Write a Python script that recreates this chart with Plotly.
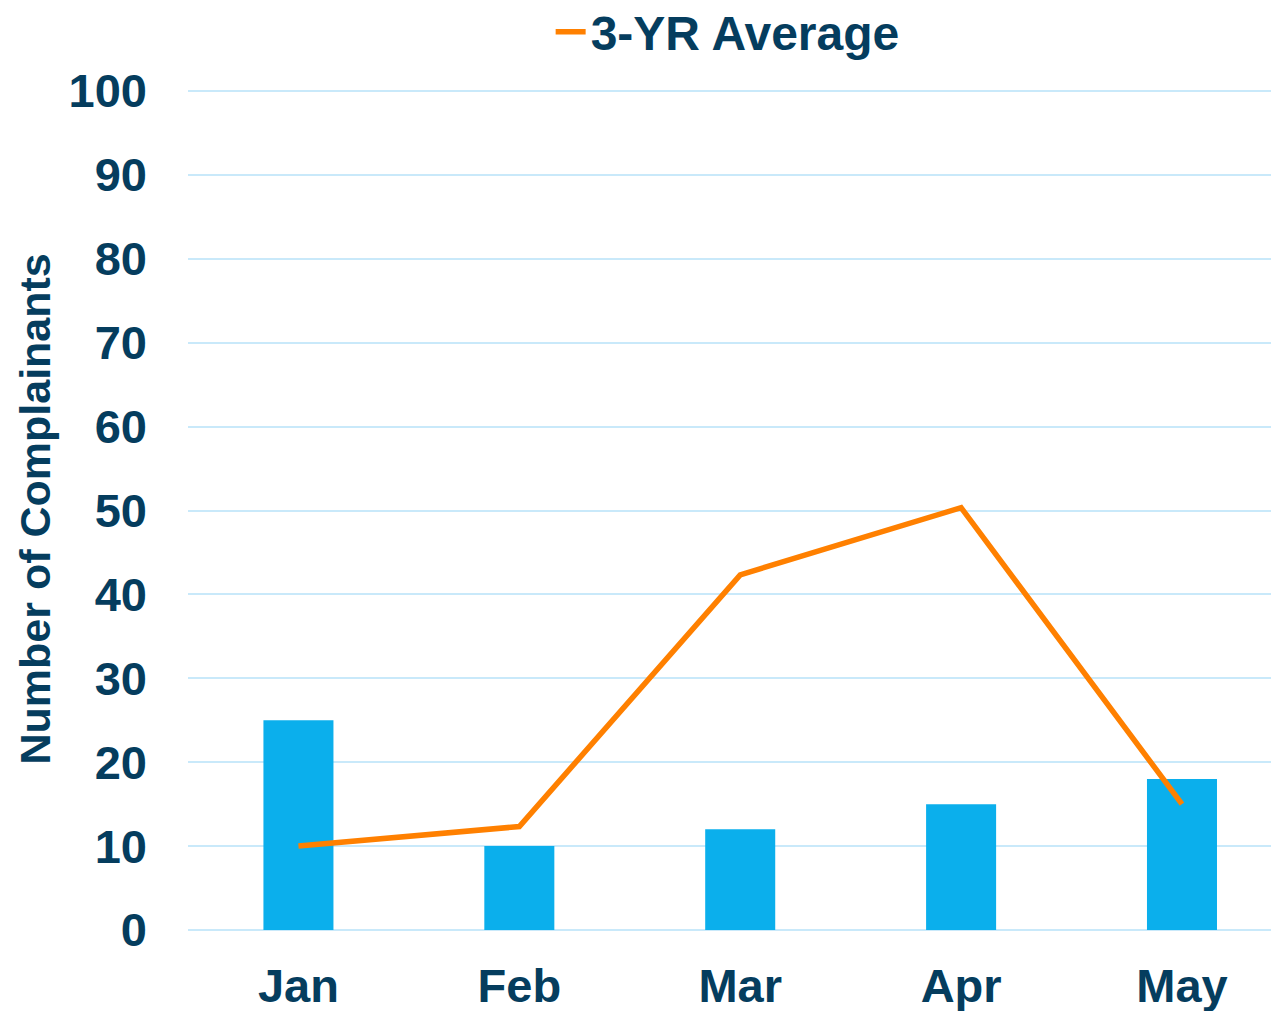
import plotly.graph_objects as go

months = ["Jan", "Feb", "Mar", "Apr", "May"]
complainants = [25, 10, 12, 15, 18]
three_yr_avg = [10, 12.33, 42.33, 50.33, 15]
y_ticks = [0, 10, 20, 30, 40, 50, 60, 70, 80, 90, 100]

NAVY = "#053D5E"
FONT = "Arial, Liberation Sans, sans-serif"

fig = go.Figure()
fig.add_trace(go.Bar(
    x=months, y=complainants, width=0.317,
    marker=dict(color="#0BAFEC", line=dict(width=0)),
    showlegend=False, name="Complainants",
))
fig.add_trace(go.Scatter(
    x=months, y=three_yr_avg, mode="lines", name="3-YR Average",
    line=dict(color="#FF8000", width=5.5),
))

fig.update_layout(
    width=1271, height=1011,
    margin=dict(l=188, r=0, t=87, b=81, autoexpand=False),
    paper_bgcolor="white", plot_bgcolor="white",
    font=dict(family=FONT, color=NAVY, size=46, weight="bold"),
    legend=dict(
        orientation="h", xref="container", yref="container",
        x=0.5725, xanchor="center", y=1 - 32 / 1011, yanchor="middle",
        font=dict(size=48, color=NAVY, family=FONT, weight="bold"),
        bgcolor="rgba(0,0,0,0)",
    ),
    xaxis=dict(
        range=[-0.5, 4.403], showgrid=False, showline=False, zeroline=False,
        ticks="", ticklabelstandoff=24, automargin=False,
        tickfont=dict(size=47, color=NAVY, family=FONT, weight="bold"),
    ),
    yaxis=dict(
        range=[0, 100.477], tickvals=y_ticks, showgrid=True, gridcolor="#C9E9FA",
        gridwidth=2, zeroline=True, zerolinecolor="#C9E9FA", zerolinewidth=2,
        showline=False, ticks="", ticklabelstandoff=40, automargin=False,
        tickfont=dict(size=47, color=NAVY, family=FONT, weight="bold"),
    ),
    annotations=[dict(
        text="Number of Complainants", textangle=-90, showarrow=False,
        xref="paper", yref="paper", x=-0.1413, y=0.5,
        xanchor="center", yanchor="middle",
        font=dict(size=43, color=NAVY, family=FONT, weight="bold"),
    )],
)

fig.write_html(
    "out.html",
    config={"displayModeBar": False},
    post_script="document.body.style.margin='0';document.body.style.overflow='hidden';",
)
